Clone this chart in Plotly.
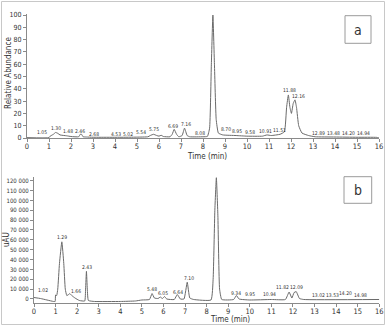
import plotly.graph_objects as go

# ---------------- data: panel a (relative abundance) ----------------
a_time = [0, 1.0, 1.05, 1.1, 1.2, 1.3, 1.4, 1.5, 1.8, 2.0, 2.35, 2.42, 2.48, 2.55, 2.7, 3.0,
          4.5, 5.0, 5.5, 5.6, 5.75, 5.9, 6.0, 6.1, 6.2, 6.5, 6.6, 6.69, 6.8, 6.9, 7.05, 7.16,
          7.28, 7.4, 8.0, 8.2, 8.3, 8.38, 8.45, 8.52, 8.6, 8.7, 8.9, 9.5, 10.0, 10.7, 10.91,
          11.1, 11.5, 11.7, 11.8, 11.88, 11.95, 12.02, 12.1, 12.18, 12.25, 12.35, 12.5, 12.8,
          13.1, 14.0, 15.0, 15.9, 16.0]
a_abund = [0.3, 0.3, 1.5, 2, 3, 4.5, 3.8, 2.5, 1.8, 1.2, 1, 3, 3, 1, 0.8, 0.6,
           0.6, 0.7, 1, 2, 3, 2, 1.5, 2.2, 1.2, 1, 3, 7, 3, 1, 2, 8,
           2, 1, 1, 1.3, 8, 60, 100, 60, 15, 4, 2.5, 2, 1.5, 1.5, 2.5,
           2, 3, 5, 25, 35, 25, 20, 28, 31, 25, 10, 4, 2,
           1, 0.8, 0.6, 0.5, 0]
a_labels = ["1.05", "1.30", "1.48", "2.46", "2.68", "4.53", "5.02", "5.54", "5.75", "6.69",
            "7.16", "8.08", "8.45", "8.70", "8.95", "9.58", "10.91", "11.51", "11.88",
            "12.16", "12.89", "13.48", "14.20", "14.94"]
a_label_x = [0.67, 1.30, 1.86, 2.41, 3.05, 4.03, 4.60, 5.18, 5.77, 6.62, 7.21, 7.86, 8.47,
             9.03, 9.53, 10.14, 10.85, 11.48, 11.91, 12.33, 13.24, 13.93, 14.62, 15.30]
a_label_y = [4.9, 7.9, 5.7, 5.7, 3.3, 3.3, 3.5, 4.9, 7.3, 10, 11.4, 4.3, 103.5, 7.6, 5.7,
             4.9, 5.7, 6.5, 39, 34, 4, 4, 4, 4]

# ---------------- data: panel b (uAU) ----------------
b_time = [0, 0.3, 0.6, 0.9, 0.98, 1.0, 1.05, 1.1, 1.18, 1.29, 1.38, 1.45, 1.52, 1.6, 1.66,
          1.75, 1.9, 2.1, 2.35, 2.39, 2.43, 2.47, 2.52, 2.8, 4.0, 4.7, 5.0, 5.35, 5.47, 5.58,
          5.75, 5.85, 5.95, 6.05, 6.15, 6.5, 6.64, 6.78, 6.95, 7.1, 7.22, 7.4, 8.2, 8.3, 8.38,
          8.45, 8.52, 8.6, 8.7, 9.25, 9.38, 9.5, 10.0, 11.0, 11.65, 11.82, 11.95, 12.05,
          12.15, 12.3, 12.5, 16.0]
b_uau = [1500, 500, -1000, -2500, -2500, 4000, 3500, 10000, 36000, 58000, 36000, 10000,
         3500, 4500, 5500, 3500, 1000, -1500, -2000, 10000, 28000, 10000, -1500, -2500,
         -2500, -2000, -1000, -500, 5500, 1000, 500, 2000, 500, 2500, 0, -500, 4500, 0, 0,
         17000, 1000, -500, -1000, 20000, 90000, 123000, 85000, 10000, -500, -500, 3500, 0,
         -1000, -500, -500, 7000, 1000, 6500, 7500, 500, -500, -500]
b_labels = ["1.02", "1.29", "1.66", "2.43", "5.48", "6.05", "6.64", "7.10", "8.39", "9.34",
            "9.95", "10.94", "11.82", "12.09", "13.02", "13.53", "14.20", "14.98"]
b_label_x = [0.40, 1.31, 1.95, 2.47, 5.46, 5.99, 6.69, 7.20, 8.46, 9.36, 9.99, 10.90, 11.52,
             12.18, 13.16, 13.82, 14.44, 15.12]
b_label_y = [9100, 62500, 8100, 32100, 10100, 6400, 7400, 21000, 129000, 6400, 4800, 4800,
             11900, 12500, 4100, 4100, 5800, 4100]

x_ticks = list(range(0, 17))
a_yticks = list(range(0, 101, 10))
b_yticks = list(range(0, 120001, 10000))
b_yticktext = ["0"] + [f"{v // 1000} 000" for v in b_yticks[1:]]

W, H = 386, 326
FONT = "Liberation Sans Narrow, DejaVu Sans Condensed, sans-serif"
TXT = "#333333"
LINE = "#6a6a6a"
AX = "#8a8a8a"


def px_x(p):
    return p / W


def px_y(p):
    return 1 - p / H


fig = go.Figure()
fig.add_trace(go.Scatter(x=a_time, y=a_abund, mode="lines", xaxis="x", yaxis="y",
                         line=dict(color=LINE, width=1, shape="spline", smoothing=0.4),
                         hoverinfo="skip", showlegend=False))
fig.add_trace(go.Scatter(x=b_time, y=b_uau, mode="lines", xaxis="x2", yaxis="y2",
                         line=dict(color=LINE, width=1, shape="spline", smoothing=0.4),
                         hoverinfo="skip", showlegend=False))

axis_common = dict(showgrid=False, zeroline=False, showline=True, linecolor=AX, linewidth=1,
                   ticks="outside", ticklen=3, tickcolor=AX, tickwidth=1)
xtickfont = dict(family=FONT, size=7.5, color=TXT)
ytickfont_a = dict(family=FONT, size=7, color=TXT)
ytickfont_b = dict(family=FONT, size=6, color=TXT)

# panel a geometry (pixels): x 0->27, 16->379 ; y 0->138, 100->15
a_y_top_val = 101
a_y0_px, a_ppu = 138, 1.23
fig.update_layout(
    xaxis=dict(domain=[px_x(27), px_x(379)], range=[0, 16], anchor="y",
               tickvals=x_ticks, tickfont=xtickfont, ticklabelstandoff=-2, **axis_common),
    yaxis=dict(domain=[px_y(a_y0_px), px_y(a_y0_px - a_y_top_val * a_ppu)],
               range=[0, a_y_top_val], anchor="x", tickvals=a_yticks,
               tickfont=ytickfont_a, **axis_common),
)
# panel b geometry: x 0->34, 16->379.3 ; y 0->299, 10000 per 9.86px
b_ppu = 9.86 / 10000
b_ymin, b_ymax = -3750, 124000
fig.update_layout(
    xaxis2=dict(domain=[px_x(34), px_x(379.3)], range=[0, 16], anchor="y2",
                tickvals=x_ticks, tickfont=xtickfont, ticklabelstandoff=-2, **axis_common),
    yaxis2=dict(domain=[px_y(299 - b_ymin * b_ppu), px_y(299 - b_ymax * b_ppu)],
                range=[b_ymin, b_ymax], anchor="x2", tickvals=b_yticks,
                ticktext=b_yticktext, tickfont=ytickfont_b, **axis_common),
)

ann = []
for t, x, y in zip(a_labels, a_label_x, a_label_y):
    ann.append(dict(x=x, y=y, xref="x", yref="y", text=t, showarrow=False,
                    xanchor="center", yanchor="middle",
                    font=dict(family=FONT, size=5, color=TXT)))
for t, x, y in zip(b_labels, b_label_x, b_label_y):
    ann.append(dict(x=x, y=y, xref="x2", yref="y2", text=t, showarrow=False,
                    xanchor="center", yanchor="middle",
                    font=dict(family=FONT, size=5, color=TXT)))


def paper_text(x, y, text, size, angle=0):
    return dict(x=px_x(x), y=px_y(y), xref="paper", yref="paper", text=text,
                textangle=angle, showarrow=False, xanchor="center", yanchor="middle",
                font=dict(family=FONT, size=size, color=TXT))


# axis titles
ann.append(paper_text(8, 73, "Relative Abundance", 8, -90))
ann.append(paper_text(207, 156, "Time (min)", 8))
ann.append(paper_text(6, 240, "uAU", 8, -90))
ann.append(paper_text(230, 319, "Time (min)", 8))
# panel letters
ann.append(paper_text(358, 29.5, "a", 14))
ann.append(paper_text(358, 190, "b", 14))

shapes = [
    dict(type="rect", xref="paper", yref="paper", x0=px_x(1.5), x1=px_x(384.5),
         y0=px_y(324.5), y1=px_y(1.5), line=dict(color="#c8c8c8", width=1)),
    dict(type="rect", xref="paper", yref="paper", x0=px_x(345), x1=px_x(371),
         y0=px_y(43.3), y1=px_y(15.7), line=dict(color="#9a9a9a", width=1),
         fillcolor="white", layer="below"),
    dict(type="rect", xref="paper", yref="paper", x0=px_x(344), x1=px_x(371.7),
         y0=px_y(203.3), y1=px_y(176.7), line=dict(color="#9a9a9a", width=1),
         fillcolor="white", layer="below"),
]

fig.update_layout(template="none", width=W, height=H, margin=dict(l=0, r=0, t=0, b=0),
                  paper_bgcolor="white", plot_bgcolor="rgba(0,0,0,0)",
                  annotations=ann, shapes=shapes, showlegend=False)

fig.write_html("out.html", config={"displayModeBar": False},
               post_script="document.body.style.margin='0';"
                           "document.body.style.overflow='hidden';")
